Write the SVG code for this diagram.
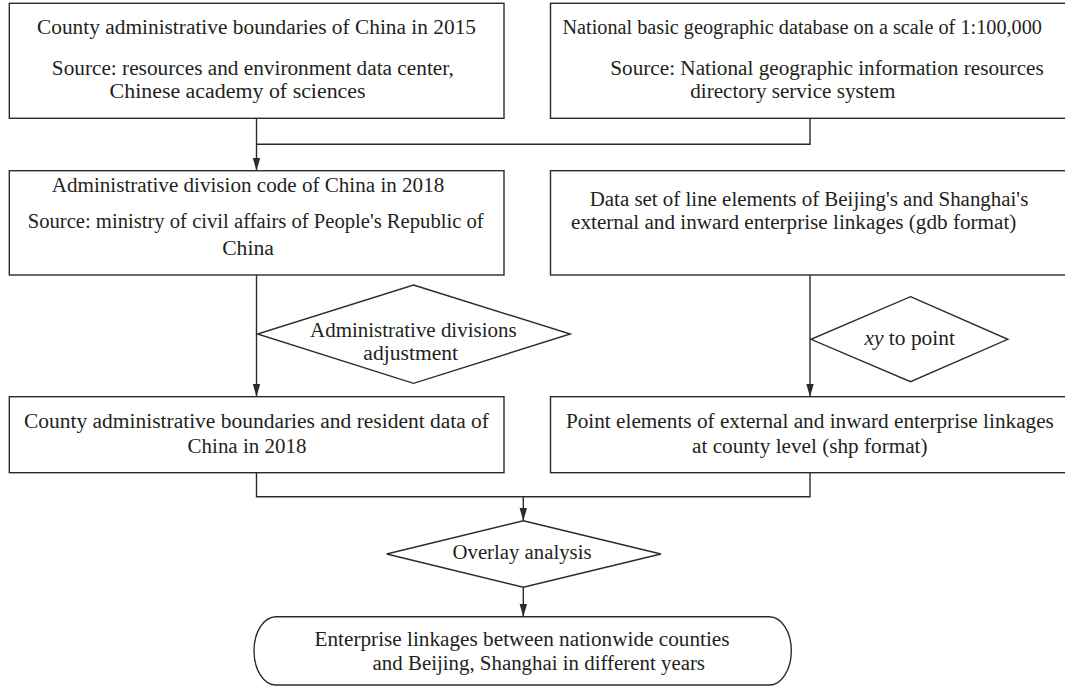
<svg xmlns="http://www.w3.org/2000/svg" width="1065" height="686" viewBox="0 0 1065 686">
<style>
.box{fill:#fff;stroke:#2b2b2b;stroke-width:1.4}
.con{fill:none;stroke:#2b2b2b;stroke-width:1.4}
text{font-family:"Liberation Serif","Times New Roman",serif;font-size:20.5px;fill:#231f20;text-anchor:middle}
</style>
<defs>
<marker id="arrd" markerUnits="userSpaceOnUse" markerWidth="14" markerHeight="10" viewBox="0 0 14 10" refX="13" refY="5" orient="auto">
<path d="M0,1.2 L13,5 L0,8.8 Z" fill="#2b2b2b"/>
</marker>
</defs>
<rect width="1065" height="686" fill="#fff"/>
<g id="connectors">
<path class="con" d="M810,118.3 V144.3 H256.5"/>
<path class="con" d="M256.5,118.3 V170.7" marker-end="url(#arrd)"/>
<path class="con" d="M256.5,275 V396.7" marker-end="url(#arrd)"/>
<path class="con" d="M810,275 V396.7" marker-end="url(#arrd)"/>
<path class="con" d="M256.5,472.7 V496.7 H810 V472.7"/>
<path class="con" d="M523.3,496.7 V520.7" marker-end="url(#arrd)"/>
<path class="con" d="M523.3,587.3 V616.7" marker-end="url(#arrd)"/>
</g>
<g id="n1">
<rect class="box" x="9.3" y="3.3" width="494.7" height="115"/>
<text x="256.5" y="34.3" textLength="439" lengthAdjust="spacingAndGlyphs">County administrative boundaries of China in 2015</text>
<text x="252.8" y="74.8" textLength="402" lengthAdjust="spacingAndGlyphs">Source: resources and environment data center,</text>
<text x="237.6" y="97.6" textLength="256" lengthAdjust="spacingAndGlyphs">Chinese academy of sciences</text>
</g>
<g id="n2">
<rect class="box" x="550.5" y="3.3" width="520" height="115"/>
<text x="802.2" y="34.3" textLength="479.5" lengthAdjust="spacingAndGlyphs">National basic geographic database on a scale of 1:100,000</text>
<text x="827" y="74.8" textLength="433.5" lengthAdjust="spacingAndGlyphs">Source: National geographic information resources</text>
<text x="792.8" y="97.6" textLength="205" lengthAdjust="spacingAndGlyphs">directory service system</text>
</g>
<g id="n3">
<rect class="box" x="9.3" y="170.7" width="494.7" height="104.3"/>
<text x="248" y="191.7" textLength="392.5" lengthAdjust="spacingAndGlyphs">Administrative division code of China in 2018</text>
<text x="255.7" y="228.3" textLength="456" lengthAdjust="spacingAndGlyphs">Source: ministry of civil affairs of People's Republic of</text>
<text x="248" y="255" textLength="51.7" lengthAdjust="spacingAndGlyphs">China</text>
</g>
<g id="n4">
<rect class="box" x="550.5" y="170.7" width="520" height="104.3"/>
<text x="809" y="206" textLength="438.6" lengthAdjust="spacingAndGlyphs">Data set of line elements of Beijing's and Shanghai's</text>
<text x="793.7" y="228.8" textLength="445.3" lengthAdjust="spacingAndGlyphs">external and inward enterprise linkages (gdb format)</text>
</g>
<g id="d1">
<polygon class="box" points="413.5,285 570.3,334 413.5,383.3 257.5,334"/>
<text x="413.3" y="336.7" textLength="206.5" lengthAdjust="spacingAndGlyphs">Administrative divisions</text>
<text x="410.7" y="360" textLength="94.7" lengthAdjust="spacingAndGlyphs">adjustment</text>
</g>
<g id="d2">
<polygon class="box" points="910.5,296.7 1007.8,339.3 910.5,381.7 811,339.3"/>
<text x="909.7" y="345" textLength="90.5" lengthAdjust="spacingAndGlyphs"><tspan font-style="italic">xy</tspan> to point</text>
</g>
<g id="n5">
<rect class="box" x="9.3" y="396.7" width="494.7" height="76"/>
<text x="256.5" y="428.3" textLength="465" lengthAdjust="spacingAndGlyphs">County administrative boundaries and resident data of</text>
<text x="247" y="452.7" textLength="118.8" lengthAdjust="spacingAndGlyphs">China in 2018</text>
</g>
<g id="n6">
<rect class="box" x="550.5" y="396.7" width="520" height="76"/>
<text x="809.9" y="428.3" textLength="488" lengthAdjust="spacingAndGlyphs">Point elements of external and inward enterprise linkages</text>
<text x="809.8" y="452.7" textLength="235.5" lengthAdjust="spacingAndGlyphs">at county level (shp format)</text>
</g>
<g id="d3">
<polygon class="box" points="523.3,520.7 660.9,554 523.3,587.3 386.7,554"/>
<text x="522" y="559" textLength="139" lengthAdjust="spacingAndGlyphs">Overlay analysis</text>
</g>
<g id="n7">
<rect class="box" x="254" y="616.7" width="537.3" height="68.3" rx="22" ry="34"/>
<text x="522" y="645.7" textLength="415" lengthAdjust="spacingAndGlyphs">Enterprise linkages between nationwide counties</text>
<text x="538.8" y="670" textLength="332.4" lengthAdjust="spacingAndGlyphs">and Beijing, Shanghai in different years</text>
</g>
</svg>
